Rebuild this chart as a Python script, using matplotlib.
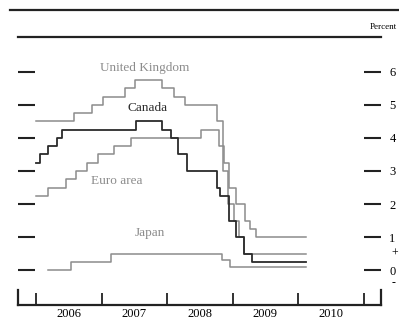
import datetime as dt
import matplotlib
matplotlib.use("Agg")
import matplotlib.pyplot as plt
from matplotlib.lines import Line2D

# Policy rates, step series (date of change, new rate in percent)
uk_dates = ["2006-01-01", "2006-08-03", "2006-11-09", "2007-01-11", "2007-05-10",
            "2007-07-05", "2007-12-06", "2008-02-07", "2008-04-10", "2008-10-08",
            "2008-11-06", "2008-12-04", "2009-01-08", "2009-02-05", "2009-03-05",
            "2010-02-15"]
uk_rates = [4.5, 4.75, 5.0, 5.25, 5.5, 5.75, 5.5, 5.25, 5.0, 4.5, 3.0, 2.0, 1.5, 1.0, 0.5, 0.5]

ca_dates = ["2006-01-01", "2006-01-24", "2006-03-07", "2006-04-25", "2006-05-24",
            "2007-07-10", "2007-12-04", "2008-01-22", "2008-03-04", "2008-04-22",
            "2008-10-08", "2008-10-21", "2008-12-09", "2009-01-20", "2009-03-03",
            "2009-04-21", "2010-02-15"]
ca_rates = [3.25, 3.5, 3.75, 4.0, 4.25, 4.5, 4.25, 4.0, 3.5, 3.0, 2.5, 2.25, 1.5, 1.0, 0.5,
            0.25, 0.25]

ea_dates = ["2006-01-01", "2006-03-08", "2006-06-15", "2006-08-09", "2006-10-11",
            "2006-12-13", "2007-03-14", "2007-06-13", "2008-07-09", "2008-10-15",
            "2008-11-12", "2008-12-10", "2009-01-21", "2009-03-11", "2009-04-08",
            "2009-05-13", "2010-02-15"]
ea_rates = [2.25, 2.5, 2.75, 3.0, 3.25, 3.5, 3.75, 4.0, 4.25, 3.75, 3.25, 2.5, 2.0, 1.5, 1.25,
            1.0, 1.0]

jp_dates = ["2006-03-10", "2006-07-14", "2007-02-21", "2008-10-31", "2008-12-19", "2010-02-15"]
jp_rates = [0.0, 0.25, 0.5, 0.3, 0.1, 0.1]

years = [2006, 2007, 2008, 2009, 2010]
y_ticks = [0, 1, 2, 3, 4, 5, 6]


def to_dates(strings):
    return [dt.datetime.strptime(s, "%Y-%m-%d") for s in strings]


plt.rcParams['font.family'] = ['Liberation Serif', 'DejaVu Serif']

fig = plt.figure(figsize=(3.99, 3.21), dpi=100)
W, H = 399, 321
ax = fig.add_axes([18 / W, 1 - 305 / H, (381 - 18) / W, (305 - 37) / H])

gray = '#8c8c8c'
dark = '#2b2b2b'
lw = 1.1

ax.step(to_dates(uk_dates), uk_rates, where='post', color=gray, lw=lw)
ax.step(to_dates(ea_dates), ea_rates, where='post', color=gray, lw=lw)
ax.step(to_dates(jp_dates), jp_rates, where='post', color=gray, lw=lw)
ax.step(to_dates(ca_dates), ca_rates, where='post', color=dark, lw=lw + 0.2)

ax.set_xlim(dt.datetime(2005, 9, 22), dt.datetime(2011, 4, 8))
ax.set_ylim(-1.06, 7.06)

# series labels
ax.text(dt.datetime(2007, 8, 30), 6.12, "United Kingdom", color=gray, fontsize=9.5,
        ha='center', va='center')
ax.text(dt.datetime(2007, 9, 16), 4.9, "Canada", color=dark, fontsize=9.5,
        ha='center', va='center')
ax.text(dt.datetime(2007, 3, 28), 2.7, "Euro area", color=gray, fontsize=9.5,
        ha='center', va='center')
ax.text(dt.datetime(2007, 9, 27), 1.12, "Japan", color=gray, fontsize=9.5,
        ha='center', va='center')

# frame: top and bottom rules, short brackets at the bottom corners
for side in ['left', 'right']:
    ax.spines[side].set_visible(False)
for side in ['top', 'bottom']:
    ax.spines[side].set_linewidth(1.6)
    ax.spines[side].set_color('#222222')
ax.plot([0, 0], [0, 0.056], transform=ax.transAxes, color='#222222', lw=1.6, clip_on=False)
ax.plot([1, 1], [0, 0.056], transform=ax.transAxes, color='#222222', lw=1.6, clip_on=False)

# year boundaries as ticks, year names centred between them
ax.set_xticks([dt.datetime(y, 1, 1) for y in years + [2011]])
ax.set_xticks([dt.datetime(y, 7, 2) for y in years], minor=True)
ax.set_xticklabels([])
ax.set_xticklabels([str(y) for y in years], minor=True)
ax.tick_params(axis='x', which='major', direction='in', length=8.6, width=1.3,
               color='#222222')
ax.tick_params(axis='x', which='minor', length=0, pad=2.5, labelsize=9)

ax.set_yticks(y_ticks)
ax.tick_params(axis='y', which='major', direction='in', length=12, width=1.5,
               color='#222222', left=True, right=True, labelleft=False,
               labelright=True, pad=6, labelsize=9)

ax.text(1.03, 0.48, "+", transform=ax.get_yaxis_transform(), fontsize=8.5,
        ha='left', va='center')
ax.text(1.03, -0.4, "-", transform=ax.get_yaxis_transform(), fontsize=8.5,
        ha='left', va='center')

# heading rule and unit note
fig.add_artist(Line2D([10 / W, 1], [1 - 10 / H, 1 - 10 / H], color='#222222', lw=1.6))
fig.text(397 / W, 1 - 27 / H, "Percent", fontsize=6.5, ha='right', va='center')

fig.savefig("out.png", dpi=100, facecolor='white')
